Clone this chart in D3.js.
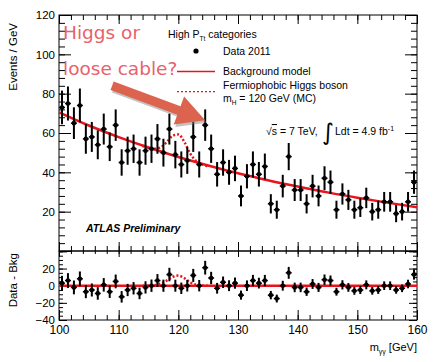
<html>

<head>
    <script src="https://d3js.org/d3.v7.min.js"></script>
</head>

<body style="margin:0;background:white">
    <svg></svg>
    <script>
        // layout
        const width = 441
        const height = 362
        const plotLeft = 59
        const plotRight = 417
        const upperTop = 15
        const upperBottom = 251
        const lowerTop = 251.4
        const lowerBottom = 320
        const font = "'Liberation Sans', Arial, sans-serif"
        const red = "#e8141b"

        // data (1 GeV bins)
        const massBins = [100.5, 101.5, 102.5, 103.5, 104.5, 105.5, 106.5, 107.5, 108.5, 109.5,
            110.5, 111.5, 112.5, 113.5, 114.5, 115.5, 116.5, 117.5, 118.5, 119.5,
            120.5, 121.5, 122.5, 123.5, 124.5, 125.5, 126.5, 127.5, 128.5, 129.5,
            130.5, 131.5, 132.5, 133.5, 134.5, 135.5, 136.5, 137.5, 138.5, 139.5,
            140.5, 141.5, 142.5, 143.5, 144.5, 145.5, 146.5, 147.5, 148.5, 149.5,
            150.5, 151.5, 152.5, 153.5, 154.5, 155.5, 156.5, 157.5, 158.5, 159.5]
        const events = [73, 75, 65, 74, 57, 58, 54, 62, 53, 64,
            45, 51, 52, 45, 51, 52, 57, 50, 62, 49,
            44, 46, 58, 44, 64, 52, 39, 45, 40, 42,
            28, 38, 44, 39, 43, 24, 21, 33, 48, 31,
            31, 24, 33, 28, 37, 35, 21, 29, 26, 21,
            22, 27, 20, 21, 25, 25, 19, 20, 25, 35]
        const dataMinusBkg = [3, 6, -2, 8, -7, -5, -9, 1, -7, 5,
            -13, -5, -3, -9, -2, 0, 6, 0, 13, 0,
            -3, 0, 12, 0, 21, 9, -3, 4, 0, 3,
            -11, 0, 6, 3, 6, -11, -15, 0, 15, -2,
            -2, -7, 2, -2, 7, 6, -7, 1, -2, -6,
            -5, 1, -6, -5, 0, 0, -5, -3, 2, 13]

        // background model
        const bkgMass = [100, 105, 110, 115, 120, 125, 130, 135, 140, 145, 150, 155, 160]
        const bkgEvents = [70.5, 63.8, 57.9, 52.6, 47.8, 43.5, 39.5, 36.0, 32.8, 29.8, 27.1, 24.6, 22.3]

        // fermiophobic higgs, mH = 120 GeV
        const higgsMass = [114, 115, 116, 117, 118, 119, 120, 121, 122, 123, 124, 125]
        const higgsPlusBkg = [53.5, 52.5, 52.0, 52.7, 55.1, 58.5, 59.3, 55.5, 49.5, 45.8, 44.1, 43.0]
        const higgsExcess = [0, 0.1, 0.6, 2.3, 5.7, 10, 11.8, 8.9, 3.8, 1.0, 0.2, 0]

        const xTicks = [100, 110, 120, 130, 140, 150, 160]
        const yTicksUpper = [20, 40, 60, 80, 100, 120]
        const yTicksLower = [-40, -20, 0, 20]

        // arrow of the annotation, in data coordinates
        const arrowFrom = [108.9, 84]
        const arrowTo = [124.5, 66.5]

        const x = d3.scaleLinear([100, 160], [plotLeft, plotRight])
        const yU = d3.scaleLinear([0, 120], [upperBottom, upperTop])
        const yL = d3.scaleLinear([-40, 40], [lowerBottom, lowerTop])

        const svg = d3.select("svg")
            .attr("width", width)
            .attr("height", height)
            .attr("viewBox", [0, 0, width, height])
            .style("display", "block")
            .style("font-family", font)

        svg.append("rect").attr("width", width).attr("height", height).attr("fill", "white")

        // ticks only (no labels), domain removed
        function ticks(axis, transform) {
            svg.append("g")
                .attr("transform", transform)
                .call(axis.tickFormat("").tickSizeOuter(0))
                .call(g => g.select(".domain").remove())
                .call(g => g.selectAll("line").attr("stroke", "black"))
        }

        // upper panel ticks
        ticks(d3.axisLeft(yU).tickValues(d3.range(0, 121, 4)).tickSize(-6), `translate(${plotLeft},0)`)
        ticks(d3.axisLeft(yU).tickValues(d3.range(0, 121, 20)).tickSize(-12), `translate(${plotLeft},0)`)
        ticks(d3.axisRight(yU).tickValues(d3.range(0, 121, 4)).tickSize(-6), `translate(${plotRight},0)`)
        ticks(d3.axisRight(yU).tickValues(d3.range(0, 121, 20)).tickSize(-12), `translate(${plotRight},0)`)
        ticks(d3.axisBottom(x).tickValues(d3.range(100, 161, 2)).tickSize(-5), `translate(0,${upperBottom})`)
        ticks(d3.axisBottom(x).tickValues(xTicks).tickSize(-9), `translate(0,${upperBottom})`)
        ticks(d3.axisTop(x).tickValues(d3.range(100, 161, 2)).tickSize(-5), `translate(0,${upperTop})`)
        ticks(d3.axisTop(x).tickValues(xTicks).tickSize(-9), `translate(0,${upperTop})`)

        // lower panel ticks
        ticks(d3.axisLeft(yL).tickValues(d3.range(-40, 41, 5)).tickSize(-4), `translate(${plotLeft},0)`)
        ticks(d3.axisLeft(yL).tickValues(d3.range(-40, 41, 20)).tickSize(-8), `translate(${plotLeft},0)`)
        ticks(d3.axisRight(yL).tickValues(d3.range(-40, 41, 5)).tickSize(-4), `translate(${plotRight},0)`)
        ticks(d3.axisRight(yL).tickValues(d3.range(-40, 41, 20)).tickSize(-8), `translate(${plotRight},0)`)
        ticks(d3.axisTop(x).tickValues(d3.range(100, 161, 2)).tickSize(-3), `translate(0,${upperBottom})`)
        ticks(d3.axisTop(x).tickValues(xTicks).tickSize(-6), `translate(0,${upperBottom})`)
        ticks(d3.axisBottom(x).tickValues(d3.range(100, 161, 2)).tickSize(-5), `translate(0,${lowerBottom})`)
        ticks(d3.axisBottom(x).tickValues(xTicks).tickSize(-10), `translate(0,${lowerBottom})`)

        // tick labels
        svg.append("g")
            .attr("transform", `translate(${plotLeft},0)`)
            .call(d3.axisLeft(yU).tickValues(yTicksUpper).tickSize(0).tickPadding(4))
            .call(g => g.select(".domain").remove())
            .attr("font-family", font).attr("font-size", 11.5)
        svg.append("g")
            .attr("transform", `translate(${plotLeft},0)`)
            .call(d3.axisLeft(yL).tickValues(yTicksLower).tickSize(0).tickPadding(4))
            .call(g => g.select(".domain").remove())
            .attr("font-family", font).attr("font-size", 11.5)
        svg.append("g")
            .attr("transform", `translate(0,${lowerBottom})`)
            .call(d3.axisBottom(x).tickValues(xTicks).tickSize(0).tickPadding(5))
            .call(g => g.select(".domain").remove())
            .attr("font-family", font).attr("font-size", 12)

        // frames
        svg.append("rect")
            .attr("x", plotLeft).attr("y", upperTop)
            .attr("width", plotRight - plotLeft).attr("height", upperBottom - upperTop)
            .attr("fill", "none").attr("stroke", "black")
        svg.append("rect")
            .attr("x", plotLeft).attr("y", upperBottom)
            .attr("width", plotRight - plotLeft).attr("height", lowerBottom - upperBottom)
            .attr("fill", "none").attr("stroke", "black")

        // axis titles
        svg.append("text")
            .attr("transform", "translate(17,23) rotate(-90)")
            .attr("text-anchor", "end").attr("font-size", 11.5)
            .text("Events / GeV")
        svg.append("text")
            .attr("transform", "translate(17,253) rotate(-90)")
            .attr("text-anchor", "end").attr("font-size", 11.5)
            .text("Data - Bkg")
        const xt = svg.append("text")
            .attr("x", plotRight).attr("y", 351)
            .attr("text-anchor", "end").attr("font-size", 11)
        xt.append("tspan").text("m")
        xt.append("tspan").attr("font-size", 7).attr("dy", 3).text("γγ")
        xt.append("tspan").attr("dy", -3).text(" [GeV]")

        // upper panel curves
        const higgsIdx = d3.range(higgsMass.length)
        svg.append("path")
            .attr("fill", "none").attr("stroke", red)
            .attr("stroke-width", 2.5).attr("stroke-dasharray", "2,2")
            .attr("d", d3.line().curve(d3.curveMonotoneX)
                .x(i => x(higgsMass[i])).y(i => yU(higgsPlusBkg[i]))(higgsIdx))
        svg.append("path")
            .attr("fill", "none").attr("stroke", red).attr("stroke-width", 2.5)
            .attr("d", d3.line().curve(d3.curveMonotoneX)
                .x(i => x(bkgMass[i])).y(i => yU(bkgEvents[i]))(d3.range(bkgMass.length)))

        // lower panel curves
        svg.append("path")
            .attr("fill", "none").attr("stroke", red)
            .attr("stroke-width", 2.5).attr("stroke-dasharray", "2,2")
            .attr("d", d3.line().curve(d3.curveMonotoneX)
                .x(i => x(higgsMass[i])).y(i => yL(higgsExcess[i]))(higgsIdx))
        svg.append("line")
            .attr("x1", x(100)).attr("x2", x(160))
            .attr("y1", yL(0)).attr("y2", yL(0))
            .attr("stroke", red).attr("stroke-width", 2.5)

        // data points with error bars
        function drawPoints(yScale, vals) {
            const g = svg.append("g").attr("stroke", "black")
            massBins.forEach((m, i) => {
                const v = vals[i]
                const err = Math.sqrt(events[i])
                g.append("line")
                    .attr("x1", x(m)).attr("x2", x(m))
                    .attr("y1", yScale(v - err)).attr("y2", yScale(v + err))
                    .attr("stroke-width", 2)
                g.append("line")
                    .attr("x1", x(m - 0.5)).attr("x2", x(m + 0.5))
                    .attr("y1", yScale(v)).attr("y2", yScale(v))
                    .attr("stroke-width", 1.5)
                g.append("circle")
                    .attr("cx", x(m)).attr("cy", yScale(v)).attr("r", 2.3)
                    .attr("fill", "black").attr("stroke", "none")
            })
        }
        drawPoints(yU, events)
        drawPoints(yL, dataMinusBkg)

        // legend
        const leg = svg.append("g").attr("font-size", 10.5)
        const t1 = leg.append("text").attr("x", 168).attr("y", 37.5)
        t1.append("tspan").text("High P")
        t1.append("tspan").attr("font-size", 6.5).attr("dy", 3).text("Tt")
        t1.append("tspan").attr("dy", -3).text(" categories")
        leg.append("circle").attr("cx", 196).attr("cy", 51).attr("r", 2.6).attr("fill", "black")
        leg.append("text").attr("x", 223).attr("y", 54.5).text("Data 2011")
        leg.append("line").attr("x1", 177).attr("x2", 215).attr("y1", 71.5).attr("y2", 71.5)
            .attr("stroke", red).attr("stroke-width", 1.3)
        leg.append("text").attr("x", 223).attr("y", 75).text("Background model")
        leg.append("line").attr("x1", 177).attr("x2", 215).attr("y1", 91.7).attr("y2", 91.7)
            .attr("stroke", red).attr("stroke-width", 1.3).attr("stroke-dasharray", "2,2")
        leg.append("text").attr("x", 223).attr("y", 88.5).text("Fermiophobic Higgs boson")
        const t2 = leg.append("text").attr("x", 223).attr("y", 102)
        t2.append("tspan").text("m")
        t2.append("tspan").attr("font-size", 6.5).attr("dy", 3).text("H")
        t2.append("tspan").attr("dy", -3).text(" = 120 GeV (MC)")

        const lum = svg.append("g").attr("font-size", 10.5)
        const t3 = lum.append("text").attr("x", 266).attr("y", 135)
        t3.append("tspan").text("√")
        t3.append("tspan").style("text-decoration", "overline").text("s")
        t3.append("tspan").text(" = 7 TeV,")
        lum.append("text").attr("x", 322).attr("y", 140).attr("font-size", 23)
            .attr("font-family", "'DejaVu Sans', sans-serif").text("∫")
        const t4 = lum.append("text").attr("x", 335).attr("y", 135)
        t4.append("tspan").text("Ldt = 4.9 fb")
        t4.append("tspan").attr("font-size", 7).attr("dy", -4).text("-1")

        svg.append("text").attr("x", 86).attr("y", 232)
            .attr("font-size", 10.5).attr("font-weight", "bold").attr("font-style", "italic")
            .text("ATLAS Preliminary")

        // annotation: arrow + question
        const [ax0, ay0] = [x(arrowFrom[0]), yU(arrowFrom[1])]
        const [ax1, ay1] = [x(arrowTo[0]), yU(arrowTo[1])]
        const len = Math.hypot(ax1 - ax0, ay1 - ay0)
        const ang = Math.atan2(ay1 - ay0, ax1 - ax0) * 180 / Math.PI
        const headLen = 28, headHalf = 15, shaftHalf = 4.5
        const arrowPts = [[0, -shaftHalf], [len - headLen, -shaftHalf], [len - headLen, -headHalf], [len, 0],
        [len - headLen, headHalf], [len - headLen, shaftHalf], [0, shaftHalf]]
        svg.append("polygon")
            .attr("points", arrowPts.map(p => p.join(",")).join(" "))
            .attr("transform", `translate(${ax0 + 1.5},${ay0 + 2.5}) rotate(${ang})`)
            .attr("fill", "#777").attr("opacity", 0.45)
        svg.append("polygon")
            .attr("points", arrowPts.map(p => p.join(",")).join(" "))
            .attr("transform", `translate(${ax0},${ay0}) rotate(${ang})`)
            .attr("fill", "#dc644f")

        const note = svg.append("g")
            .attr("font-family", "'Comic Sans MS', 'DejaVu Sans', sans-serif")
            .attr("font-size", 18.5).attr("fill", "#e9616b")
        note.append("text").attr("x", 63).attr("y", 39).text("Higgs or")
        note.append("text").attr("x", 63).attr("y", 75).text("loose cable?")
    </script>
</body>

</html>
